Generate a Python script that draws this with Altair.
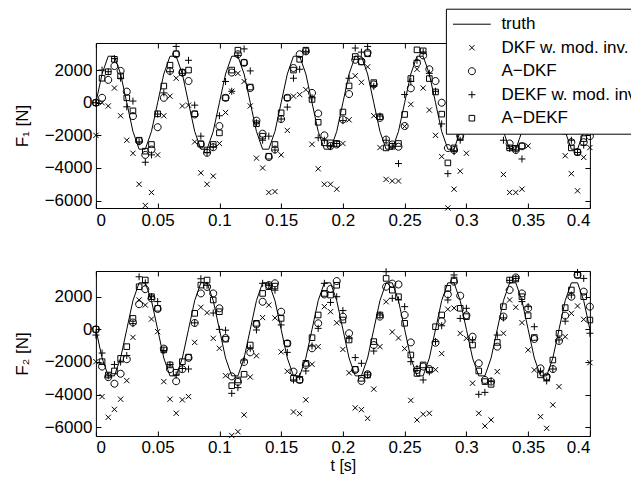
import altair as alt
import pandas as pd

# sample times [s]
T = [0.000, 0.005, 0.010, 0.015, 0.020, 0.025, 0.030, 0.035, 0.040, 0.045,
     0.050, 0.055, 0.060, 0.065, 0.070, 0.075, 0.080, 0.085, 0.090, 0.095,
     0.100, 0.105, 0.110, 0.115, 0.120, 0.125, 0.130, 0.135, 0.140, 0.145,
     0.150, 0.155, 0.160, 0.165, 0.170, 0.175, 0.180, 0.185, 0.190, 0.195,
     0.200, 0.205, 0.210, 0.215, 0.220, 0.225, 0.230, 0.235, 0.240, 0.245,
     0.250, 0.255, 0.260, 0.265, 0.270, 0.275, 0.280, 0.285, 0.290, 0.295,
     0.300, 0.305, 0.310, 0.315, 0.320, 0.325, 0.330, 0.335, 0.340, 0.345,
     0.350, 0.355, 0.360, 0.365, 0.370, 0.375, 0.380, 0.385, 0.390, 0.395,
     0.400]

# ---- panel 1 : F1 ----
truth1 = [0, 1760, 2850, 2850, 1760, 0, -1760, -2850, -2850, -1760,
          0, 1760, 2850, 2850, 1760, 0, -1760, -2850, -2850, -1760,
          0, 1760, 2850, 2850, 1760, 0, -1760, -2850, -2850, -1760,
          0, 1760, 2850, 2850, 1760, 0, -1760, -2850, -2850, -1760,
          0, 1760, 2850, 2850, 1760, 0, -1760, -2850, -2850, -1760,
          0, 1760, 2850, 2850, 1760, 0, -1760, -2850, -2850, -1760,
          0, 1760, 2850, 2850, 1760, 0, -1760, -2850, -2850, -1760,
          0, 1760, 2850, 2850, 1760, 0, -1760, -2850, -2850, -1760,
          0]
dkf1 = [-2000, 0, -200, 900, -800, -2300, -3100, -5000, -6300, -5500,
        -3200, -800, 400, 1500, -200, -150, -2400, -4300, -5000, -4500,
        -2500, -600, 700, 1800, 1300, -200, -3400, -4000, -5500, -5450,
        -3200, -1700, 400, 500, 800, -2550, -4050, -5000, -5000, -5300,
        -2500, -1050, 1650, 1250, 2200, -800, -2750, -4700, -4800, -4800,
        -1450, -100, 2050, 900, -450, -2000, -3300, -6450, -5300, -4200,
        -3100, -1300, 500, 1700, 1300, -900, -4400, -5500, -5500, -5300,
        -2650, -1000, 600, 1600, 900, -1100, -3250, -4350, -5400, -3350,
        -2750]
adkf1 = [0, 300, 1400, 2250, 1950, 680, -820, -2350, -3200, -2870,
         -1500, 300, 1950, 2970, 1850, 1330, -720, -2560, -3070, -2730,
         -1430, 300, 1850, 2970, 2450, 900, -1100, -1900, -3330, -2870,
         -1000, 300, 2130, 2970, 3150, 600, -660, -2000, -2650, -2560,
         -1030, 530, 2630, 2540, 3070, 1120, -930, -2260, -2560, -2700,
         -1430, 880, 2430, 2900, 2050, 1330, 0, -2780, -2900, -2030,
         -1200, 200, 1800, 2800, 2500, 900, -1200, -2500, -2900, -2670,
         -1600, 300, 2000, 2800, 2400, 700, -1100, -2420, -3030, -2420,
         -2050]
dekf1 = [0, 2000, 1900, 2700, 1500, -250, 100, -2400, -3650, -3200,
         -700, 600, 1900, 3450, 1800, 2600, -150, -2050, -3050, -2700,
         -800, 1300, 700, 2900, 3300, 1950, -1230, -2300, -2050, -2900,
         -1000, -270, 1500, 2050, 3150, 300, -2150, -2300, -2700, -2500,
         -1100, 1500, 3350, 3100, 3450, 1000, -820, -2300, -2670, -3730,
         500, 1300, 2600, 3100, 1800, 700, -1300, -4350, -3000, -2300,
         -1400, 500, 2100, 3000, 2900, 1300, -2300, -2800, -2900, -3450,
         -1500, 800, 1900, 3200, 2700, 1100, -1500, -2300, -3050, -2600,
         -1600]
adekf1 = [0, 1500, 1900, 2660, 1640, 300, -500, -2300, -2970, -2560,
          -680, 1020, 2300, 3000, 1850, 2000, -680, -2520, -2900, -2560,
          -1850, 300, 2000, 3220, 2460, 960, -1290, -2050, -3280, -2560,
          -620, 300, 2000, 2660, 3220, 200, -1200, -2460, -2460, -2500,
          -570, 1030, 2830, 2500, 3000, 1230, -860, -2770, -2670, -2500,
          -720, 1480, 3240, 3180, 1480, 660, -700, -3690, -2770, -2100,
          -1300, 600, 2000, 2900, 2700, 1000, -1100, -2770, -2800, -2650,
          -1500, 400, 2000, 2900, 2600, 900, -1750, -2770, -3030, -2200,
          -1200]

# ---- panel 2 : F2 ----
truth2 = [0, -1760, -2850, -2850, -1760, 0, 1760, 2850, 2850, 1760,
          0, -1760, -2850, -2850, -1760, 0, 1760, 2850, 2850, 1760,
          0, -1760, -2850, -2850, -1760, 0, 1760, 2850, 2850, 1760,
          0, -1760, -2850, -2850, -1760, 0, 1760, 2850, 2850, 1760,
          0, -1760, -2850, -2850, -1760, 0, 1760, 2850, 2850, 1760,
          0, -1760, -2850, -2850, -1760, 0, 1760, 2850, 2850, 1760,
          0, -1760, -2850, -2850, -1760, 0, 1760, 2850, 2850, 1760,
          0, -1760, -2850, -2850, -1760, 0, 1760, 2850, 2850, 1760,
          0]
dkf2 = [-1980, -4120, -5390, -4900, -4280, -3140, -490, 1800, 1490, 630,
        -140, -3200, -4280, -5140, -4320, -4120, -800, 1350, 1020, -550,
        -1160, -2840, -6500, -6270, -5240, -2920, -1620, 720, 1490, 700,
        -1380, -2570, -5060, -5160, -4320, -2140, -1060, 1390, 1080, 400,
        -1230, -2660, -4810, -4920, -5450, -3660, -1060, 1690, -160, -530,
        -1180, -4350, -5550, -5200, -5140, -2470, -1490, 1230, 1300, -245,
        -550, -3300, -5140, -5920, -5550, -2590, -240, 1800, 1350, 410,
        -1260, -2490, -5350, -6060, -4630, -3510, -450, 980, 1430, 610,
        -2040]
adkf2 = [0, -2280, -2930, -3330, -2720, -1830, 420, 1540, 2460, 1900,
         1250, -1180, -2440, -3180, -2440, -1750, 390, 2200, 2600, 2200,
         1290, -530, -2880, -3220, -2000, -1410, 300, 1690, 2710, 2820,
         1080, -860, -2590, -3100, -2180, -1160, 370, 2140, 2470, 2960,
         780, -240, -2490, -3160, -2750, -960, 780, 2610, 2800, 2750,
         880, -800, -2490, -2280, -2430, -820, 500, 2140, 2920, 2060,
         860, -450, -2080, -3100, -3200, -1060, 780, 2410, 3180, 2200,
         1290, -590, -2390, -2900, -2430, -710, 840, 2000, 3330, 2310,
         1390]
dekf2 = [-350, -1450, -2850, -2150, -2000, -1600, 350, 3220, 2850, 2000,
         1700, -1300, -2150, -2800, -2400, -2430, 400, 3100, 2700, 1000,
         0, -50, -3920, -3570, -1880, -1160, -40, 2820, 2700, 2400,
         270, -1410, -3100, -2900, -2550, -1020, 60, 2820, 1650, 2000,
         1150, -550, -1730, -2080, -2790, -1330, 880, 3530, 1900, 1800,
         1390, -1980, -2400, -3100, -2600, -750, 220, 1800, 3330, 670,
         1290, -650, -3980, -3860, -3160, -350, 700, 3000, 3120, 1700,
         1390, 160, -2550, -3160, -2430, -650, 500, 2100, 3490, 3120,
         -240]
adekf2 = [0, -1980, -2800, -2550, -1780, -1060, 670, 2610, 3020, 2000,
          1290, -1260, -2180, -2630, -1980, -1700, 980, 2710, 3020, 1800,
          1080, -600, -3450, -3100, -2750, -960, 370, 2200, 2610, 2650,
          670, -860, -3000, -3100, -2080, -510, 880, 2200, 2100, 2700,
          570, -650, -2450, -3000, -2800, -750, 880, 3120, 2400, 2000,
          370, -1570, -2700, -2180, -2500, 160, 880, 2510, 3020, 1290,
          780, -960, -2550, -3200, -3370, -800, 1390, 3020, 3080, 2000,
          840, -500, -2790, -2950, -1880, -240, 1330, 2410, 3330, 2000,
          570]

series_names = ["truth", "DKF w. mod. inv.", "A\u2212DKF", "DEKF w. mod. inv.", "A\u2212DEKF"]
x_ticks = [0, 0.05, 0.1, 0.15, 0.2, 0.25, 0.3, 0.35, 0.4]
y_ticks = [-6000, -4000, -2000, 0, 2000]
ydom1 = [-6455, 3660]
ydom2 = [-6533, 3574]

shape_paths = [
    "M-5.4,0L5.4,0",
    "M-0.75,-0.75L0.75,0.75M-0.75,0.75L0.75,-0.75",
    "M1,0A1,1,0,1,1,-1,0A1,1,0,1,1,1,0Z",
    "M-1,0L1,0M0,-1L0,1",
    "M-0.8,-0.8L0.8,-0.8L0.8,0.8L-0.8,0.8Z",
]

FONT = "Arial"


def panel(truth, est, ytitle, ydom, xtitle, with_legend):
    line_df = pd.DataFrame({"t": T, "v": truth})
    pts_df = pd.concat(
        [pd.DataFrame({"t": T, "v": vals, "series": name})
         for name, vals in zip(series_names[1:], est)],
        ignore_index=True)
    xs = alt.Scale(domain=[0, 0.4], nice=False, zero=False)
    ys = alt.Scale(domain=ydom, nice=False, zero=False)

    bx = dict(values=x_ticks, format="~g", orient="bottom", offset=-5, tickSize=5,
              domain=False, grid=False, labelPadding=4)
    if xtitle:
        bx["title"] = xtitle
        bx["titleBaseline"] = "top"
        bx["titleY"] = 26.2
        bx["titleFontSize"] = 16
    else:
        bx["title"] = None
    line = alt.Chart(line_df).mark_line(color="black", strokeWidth=1).encode(
        x=alt.X("t:Q", scale=xs, axis=alt.Axis(**bx)),
        y=alt.Y("v:Q", scale=ys, axis=alt.Axis(values=y_ticks, format="d", orient="left",
                                              offset=-5, tickSize=5, domain=False, grid=False,
                                              labelPadding=4, title=ytitle, titlePadding=13)),
    )
    if with_legend:
        leg = alt.Legend(orient="none", legendX=350, legendY=-34.3, title=None,
                         fillColor="white", strokeColor="black", padding=7,
                         symbolSize=49, symbolStrokeWidth=1, symbolStrokeColor="black",
                         symbolFillColor="transparent", symbolOffset=10.5, labelOffset=21,
                         labelFont=FONT, labelFontSize=17, labelColor="black",
                         rowPadding=5.5, labelLimit=400)
    else:
        leg = None
    shape_enc = alt.Shape("series:N", scale=alt.Scale(domain=series_names, range=shape_paths),
                          legend=leg)
    pts = alt.Chart(pts_df).mark_point(filled=False, color="black", strokeWidth=1,
                                       size=49, opacity=1).encode(
        x=alt.X("t:Q", scale=xs, axis=alt.Axis(values=x_ticks, orient="top", labels=False,
                                              offset=-5, tickSize=5, domain=False, grid=False,
                                              title=None)),
        y=alt.Y("v:Q", scale=ys, axis=alt.Axis(values=y_ticks, orient="right", labels=False,
                                              offset=-5, tickSize=5, domain=False, grid=False,
                                              title=None)),
        shape=shape_enc,
    )
    return alt.layer(line, pts).resolve_axis(x="independent", y="independent").properties(
        width=494, height=165)


top = panel(truth1, [dkf1, adkf1, dekf1, adekf1], "F\u2081 [N]", ydom1, None, True)
bottom = panel(truth2, [dkf2, adkf2, dekf2, adekf2], "F\u2082 [N]", ydom2, "t [s]", False)

chart = alt.vconcat(top, bottom, spacing=63, bounds="flush").resolve_scale(
    shape="independent"
).properties(
    padding={"left": 3.9, "top": -1, "right": -18, "bottom": 0}
).configure_view(
    stroke="black", strokeWidth=1
).configure_axis(
    labelFont=FONT, labelFontSize=17, labelColor="black",
    titleFont=FONT, titleFontSize=17, titleFontWeight="normal", titleColor="black",
    tickColor="black", tickWidth=1
)

chart.save("out.html", embed_options={"renderer": "svg", "actions": False})
